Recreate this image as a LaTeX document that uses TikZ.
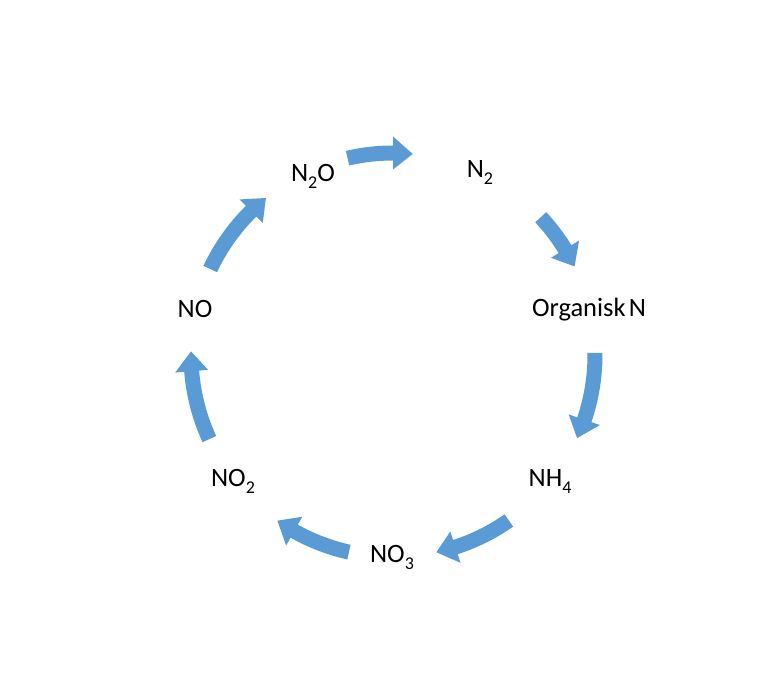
\documentclass[tikz,border=0pt]{standalone}
\usepackage{fontspec}
\setmainfont{Carlito}
\definecolor{arrowblue}{HTML}{5B9BD5}
\newcommand\chemsub[1]{\raisebox{-0.24em}{\fontsize{18}{18}\selectfont #1}}
\def\Rmid{202}
\def\Rout{209.5}
\def\Rin{194.5}
\def\Hout{218.5}
\def\Hin{185.5}
\newcommand\cyclearrow[2]{%
  \pgfmathsetmacro\ah{#2+5.6}%
  \fill[arrowblue] ([shift={(C)}]#1:\Rout) arc[start angle=#1, end angle=\ah, radius=\Rout]
    -- ([shift={(C)}]\ah:\Hout) -- ([shift={(C)}]#2:\Rmid) -- ([shift={(C)}]\ah:\Hin)
    -- ([shift={(C)}]\ah:\Rin) arc[start angle=\ah, end angle=#1, radius=\Rin] -- cycle;}
\tikzset{lbl/.style={anchor=base, inner sep=0pt, font=\fontsize{26.5}{30}\selectfont, text=black}}
\begin{document}
\begin{tikzpicture}[x=1pt,y=1pt]
\fill[white] (0,0) rectangle (768,674);
\useasboundingbox (0,0) rectangle (768,674);
\coordinate (C) at (393,319);
\node[lbl] (n2o) at (313,492) {N\chemsub{2}O};
\node[lbl] (n2) at (480,496) {N\chemsub{2}};
\node[lbl] (org) at (589,357) {Organisk\hspace{0.12em}N};
\node[lbl] (nh4) at (550,187) {NH\chemsub{4}};
\node[lbl] (no3) at (392,111) {NO\chemsub{3}};
\node[lbl] (no2) at (233,187) {NO\chemsub{2}};
\node[lbl] (no) at (195,356) {NO};
\cyclearrow{103}{84.4}
\cyclearrow{43}{26}
\cyclearrow{0.6}{-24.3}
\cyclearrow{-55}{-77.6}
\cyclearrow{-102.6}{-124.9}
\cyclearrow{-155.4}{-181}
\cyclearrow{154.8}{129}
\end{tikzpicture}
\end{document}
